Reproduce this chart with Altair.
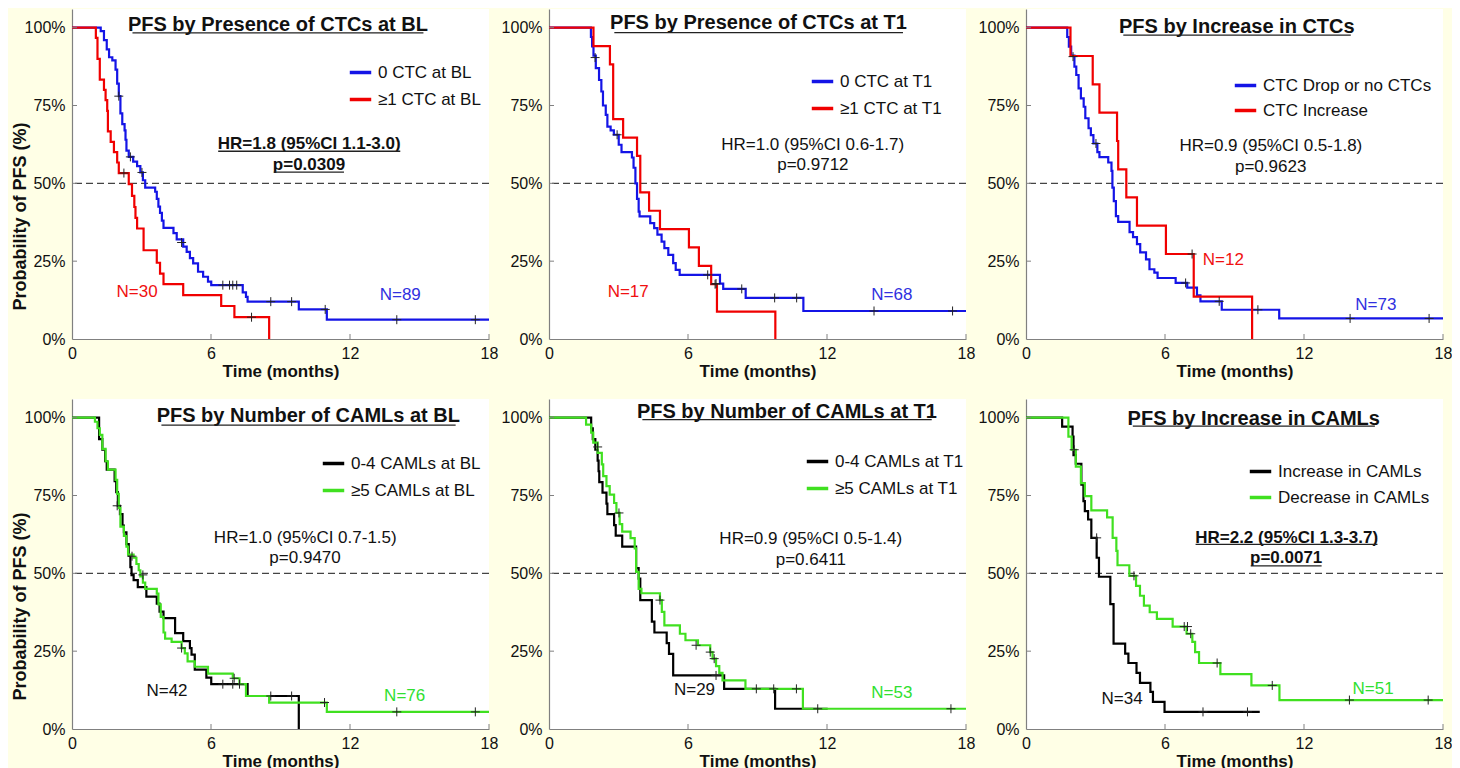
import altair as alt
import pandas as pd

FONT = "Liberation Sans"
BLUE = "#1414E6"
RED = "#F00000"
GREEN = "#40E020"
BLACK = "#000000"

# ---------------- Kaplan-Meier curves (time in months, survival in %) ----------------
# Panel 1: PFS by Presence of CTCs at BL
p1_a_t = [0, 1.24, 1.38, 1.50, 1.60, 1.74, 1.88, 1.95, 2.02, 2.09, 2.17, 2.27, 2.31, 2.35, 2.45, 2.64, 2.81, 2.95, 3.06, 3.16, 3.59, 3.66, 3.73, 3.80, 3.88, 3.95, 4.38, 4.52, 4.80, 4.95, 5.09, 5.23, 5.44, 5.66, 5.87, 6.01, 7.37, 7.51, 7.58, 9.79, 11.0, 18.0]
p1_a_s = [100, 98.9, 96.0, 93.0, 90.5, 89.5, 86.5, 82.0, 78.0, 72.5, 69.0, 67.0, 64.0, 60.5, 58.5, 57.0, 55.5, 53.5, 51.0, 48.6, 47.3, 45.0, 42.5, 40.5, 38.0, 35.7, 34.0, 32.0, 29.7, 28.0, 26.0, 24.3, 21.6, 20.0, 18.4, 17.3, 15.0, 13.5, 12.0, 9.5, 6.2, 6.2]
p1_b_t = [0, 1.03, 1.10, 1.20, 1.38, 1.45, 1.52, 1.55, 1.67, 1.81, 1.95, 2.02, 2.45, 2.59, 2.69, 2.74, 2.81, 3.09, 3.66, 3.80, 3.95, 4.80, 6.44, 7.01, 8.51]
p1_b_s = [100, 96.7, 90.0, 83.3, 80.0, 76.7, 73.3, 66.7, 63.3, 60.0, 56.7, 53.3, 49.7, 46.0, 42.4, 38.9, 35.5, 28.5, 24.5, 21.0, 17.6, 14.1, 10.6, 7.0, 0]
p1_a_cens_t = [2.02, 2.52, 3.02, 4.73, 6.51, 6.80, 6.94, 7.11, 8.58, 9.48, 10.93, 14.02, 17.41]
p1_a_cens_s = [78.0, 58.5, 53.5, 31.0, 17.3, 17.3, 17.3, 17.3, 12.0, 12.0, 9.5, 6.2, 6.2]
p1_b_cens_t = [2.24, 7.75]
p1_b_cens_s = [53.3, 7.0]

# Panel 2: PFS by Presence of CTCs at T1
p2_a_t = [0, 1.81, 1.86, 1.92, 2.02, 2.16, 2.26, 2.33, 2.45, 2.52, 2.66, 2.80, 3.01, 3.13, 3.58, 3.65, 3.73, 3.80, 3.87, 3.91, 4.37, 4.54, 4.68, 4.86, 4.98, 5.15, 5.36, 5.47, 5.64, 7.38, 7.52, 8.49, 10.98, 18.0]
p2_a_s = [100, 97.0, 94.0, 91.0, 87.0, 83.2, 79.5, 75.0, 72.0, 68.2, 67.0, 65.6, 62.4, 60.0, 58.3, 55.0, 50.0, 45.0, 40.9, 39.4, 37.2, 35.6, 33.5, 31.3, 29.2, 27.0, 24.4, 22.2, 20.6, 17.8, 16.1, 13.2, 9.0, 9.0]
p2_b_t = [0, 1.92, 2.63, 2.77, 3.20, 3.80, 3.94, 4.32, 4.79, 6.04, 6.47, 7.00, 7.25, 9.77]
p2_b_s = [100, 94.1, 88.2, 70.6, 64.7, 58.8, 47.1, 41.2, 35.3, 29.4, 23.5, 17.6, 8.8, 0]
p2_a_cens_t = [1.99, 2.94, 6.85, 7.21, 8.32, 9.74, 10.69, 14.03, 17.42]
p2_a_cens_s = [90.4, 65.6, 20.6, 17.8, 16.1, 13.2, 13.2, 9.0, 9.0]
p2_b_cens_t = [7.17]
p2_b_cens_s = [17.6]

# Panel 3: PFS by Increase in CTCs
p3_a_t = [0, 1.78, 1.85, 1.95, 2.09, 2.17, 2.27, 2.37, 2.49, 2.56, 2.70, 2.80, 2.91, 3.08, 3.17, 3.55, 3.69, 3.73, 3.79, 3.88, 3.98, 4.47, 4.62, 4.79, 4.93, 5.18, 5.33, 5.54, 5.68, 6.46, 6.96, 7.38, 7.53, 8.45, 10.93, 18.0]
p3_a_s = [100, 97.0, 93.9, 91.0, 87.5, 84.8, 80.5, 77.3, 74.6, 70.9, 67.7, 65.5, 62.8, 60.0, 58.4, 56.7, 54.0, 48.6, 44.3, 39.5, 37.6, 34.3, 32.7, 30.5, 27.8, 25.6, 22.4, 21.3, 19.6, 18.0, 16.5, 14.0, 12.1, 9.4, 6.6, 6.6]
p3_b_t = [0, 1.92, 2.88, 3.17, 3.93, 3.98, 4.33, 4.79, 6.04, 7.24, 9.76]
p3_b_s = [100, 90.9, 81.8, 72.7, 63.6, 54.5, 45.5, 36.4, 27.3, 13.6, 0]
p3_a_cens_t = [2.03, 3.02, 6.89, 8.34, 10.01, 13.99, 17.40]
p3_a_cens_s = [90.7, 62.8, 18.0, 12.1, 9.4, 6.6, 6.6]
p3_b_cens_t = [7.17]
p3_b_cens_s = [27.3]

# Panel 4: PFS by Number of CAMLs at BL
p4_a_t = [0, 1.17, 1.31, 1.43, 1.50, 1.84, 1.91, 1.98, 2.07, 2.18, 2.24, 2.35, 2.45, 2.52, 2.57, 2.66, 2.84, 3.21, 3.66, 3.78, 3.95, 4.45, 4.80, 5.09, 5.16, 5.30, 5.80, 6.01, 7.58, 9.79]
p4_a_s = [100, 93.1, 89.7, 86.0, 83.3, 79.6, 76.1, 71.7, 69.0, 65.3, 63.2, 59.4, 55.7, 52.0, 49.4, 47.8, 45.6, 42.5, 40.3, 37.7, 35.6, 30.8, 28.2, 26.0, 23.9, 19.1, 16.5, 14.4, 10.6, 0]
p4_b_t = [0, 0.99, 1.10, 1.20, 1.31, 1.45, 1.55, 1.88, 1.95, 2.02, 2.09, 2.24, 2.35, 2.42, 2.66, 2.78, 2.88, 2.95, 3.06, 3.16, 3.66, 3.73, 3.83, 3.95, 4.02, 4.30, 4.73, 4.87, 4.99, 5.30, 5.87, 6.94, 7.23, 7.51, 8.51, 11.0, 18.0]
p4_b_s = [100, 98.7, 96.6, 94.5, 90.0, 86.0, 83.3, 80.0, 75.5, 71.0, 65.0, 62.0, 58.6, 56.0, 55.0, 53.0, 51.0, 49.0, 47.0, 45.0, 43.5, 40.0, 36.0, 31.0, 29.0, 28.0, 26.0, 24.3, 21.7, 20.0, 17.8, 16.3, 14.4, 10.6, 8.5, 5.5, 5.5]
p4_a_cens_t = [1.95, 6.51, 6.94, 7.23, 8.58, 9.48]
p4_a_cens_s = [71.7, 14.4, 14.4, 14.4, 10.6, 10.6]
p4_b_cens_t = [2.59, 3.06, 4.73, 7.00, 10.90, 14.02, 17.41]
p4_b_cens_s = [55.5, 49.5, 26.0, 16.3, 8.5, 5.5, 5.5]

# Panel 5: PFS by Number of CAMLs at T1
p5_a_t = [0, 1.82, 1.89, 2.00, 2.10, 2.14, 2.17, 2.31, 2.48, 2.52, 2.81, 2.88, 3.16, 3.76, 3.87, 3.94, 4.44, 4.55, 5.08, 5.18, 5.36, 7.56, 9.76, 12.03]
p5_a_s = [100, 96.6, 93.1, 89.7, 86.2, 82.8, 79.3, 75.9, 72.4, 69.0, 65.5, 62.1, 58.6, 51.7, 48.3, 41.4, 34.5, 31.0, 27.6, 24.1, 17.2, 12.9, 6.5, 6.5]
p5_b_t = [0, 1.60, 1.82, 1.91, 2.10, 2.28, 2.34, 2.48, 2.62, 2.81, 2.91, 3.05, 3.16, 3.52, 3.70, 3.76, 3.87, 3.99, 4.79, 4.87, 4.98, 5.65, 5.89, 6.43, 6.96, 7.06, 7.21, 7.35, 7.49, 8.48, 10.96, 18.0]
p5_b_s = [100, 97.8, 95.2, 92.0, 88.7, 85.0, 81.2, 78.0, 75.3, 72.6, 69.4, 65.8, 63.4, 61.3, 58.0, 50.5, 45.0, 43.6, 41.4, 37.6, 33.3, 30.6, 28.5, 26.9, 24.7, 22.6, 20.2, 18.0, 15.6, 12.9, 6.5, 6.5]
p5_a_cens_t = [7.21, 8.95, 9.70, 11.60]
p5_a_cens_s = [17.2, 12.9, 12.9, 6.5]
p5_b_cens_t = [2.10, 3.02, 4.79, 6.35, 6.96, 7.13, 10.68, 17.35]
p5_b_cens_s = [90.6, 69.4, 41.4, 26.9, 24.7, 22.6, 12.9, 6.5]

# Panel 6: PFS by Increase in CAMLs
p6_a_t = [0, 1.56, 2.01, 2.05, 2.15, 2.39, 2.48, 2.54, 2.68, 2.82, 3.05, 3.15, 3.64, 3.78, 4.28, 4.42, 4.77, 4.92, 5.37, 5.48, 5.98, 10.09]
p6_a_s = [100, 97.1, 93.9, 88.0, 85.2, 78.5, 73.2, 70.0, 67.3, 61.4, 55.0, 48.9, 40.1, 27.4, 24.2, 21.2, 18.0, 14.8, 11.9, 8.7, 5.5, 5.5]
p6_b_t = [0, 1.83, 1.97, 2.15, 2.37, 2.54, 2.82, 3.50, 3.74, 3.90, 3.95, 4.46, 4.75, 4.92, 5.09, 5.34, 5.65, 6.33, 6.93, 7.18, 7.30, 7.47, 8.39, 9.73, 10.94, 18.0]
p6_b_s = [100, 93.9, 89.7, 84.3, 79.0, 74.8, 70.2, 68.0, 61.4, 57.2, 52.6, 49.2, 46.0, 42.8, 39.6, 37.5, 35.4, 32.9, 30.6, 28.0, 24.7, 21.2, 17.6, 14.0, 9.3, 9.3]
p6_a_cens_t = [3.05, 7.64, 9.56]
p6_a_cens_s = [61.4, 5.5, 5.5]
p6_b_cens_t = [2.08, 4.66, 6.83, 6.97, 7.11, 8.25, 10.63, 13.96, 17.36]
p6_b_cens_s = [89.7, 49.2, 32.9, 32.9, 30.6, 21.2, 14.0, 9.3, 9.3]

# ---------------- Labels ----------------
titles = ["PFS by Presence of CTCs at BL", "PFS by Presence of CTCs at T1", "PFS by Increase in CTCs",
          "PFS by Number of CAMLs at BL", "PFS by Number of CAMLs at T1", "PFS by Increase in CAMLs"]
series_names = [["0 CTC at BL", "\u22651 CTC at BL"], ["0 CTC at T1", "\u22651 CTC at T1"],
                ["CTC Drop or no CTCs", "CTC Increase"], ["0-4 CAMLs at BL", "\u22655 CAMLs at BL"],
                ["0-4 CAMLs at T1", "\u22655 CAMLs at T1"], ["Increase in CAMLs", "Decrease in CAMLs"]]
hr_texts = ["HR=1.8 (95%CI 1.1-3.0)", "HR=1.0 (95%CI 0.6-1.7)", "HR=0.9 (95%CI 0.5-1.8)",
            "HR=1.0 (95%CI 0.7-1.5)", "HR=0.9 (95%CI 0.5-1.4)", "HR=2.2 (95%CI 1.3-3.7)"]
p_texts = ["p=0.0309", "p=0.9712", "p=0.9623", "p=0.9470", "p=0.6411", "p=0.0071"]
significant = [True, False, False, False, False, True]
n_texts = [["N=89", "N=30"], ["N=68", "N=17"], ["N=73", "N=12"], ["N=42", "N=76"], ["N=29", "N=53"], ["N=34", "N=51"]]
x_ticks = [0, 6, 12, 18]
y_ticks = [0, 25, 50, 75, 100]

# ---------------- Layout / annotation placement (data units) ----------------
pal = [[BLUE, RED], [BLUE, RED], [BLUE, RED], [BLACK, GREEN], [BLACK, GREEN], [BLACK, GREEN]]
ntext_col = [["#3030E0", "#F01010"], ["#3030E0", "#F01010"], ["#3030E0", "#F01010"],
             ["#111111", "#30E030"], ["#111111", "#30E030"], ["#111111", "#30E030"]]
title_pos = [(8.89, 101.0, 2.61, 15.17, 98.3), (9.04, 101.4, 2.82, 15.28, 98.4), (9.10, 100.3, 4.20, 14.02, 97.6),
             (10.2, 100.4, 3.86, 16.56, 97.6), (10.27, 101.8, 4.03, 16.52, 99.4), (9.83, 99.5, 4.61, 15.06, 97.3)]
hr_pos = [(10.24, 62.5, 6.31, 14.17, 60.3), (11.38, 62.3, 0, 0, 0), (10.57, 62.1, 0, 0, 0),
          (10.07, 61.5, 0, 0, 0), (11.30, 60.9, 0, 0, 0), (11.25, 61.4, 7.32, 15.17, 59.3)]
p_pos = [(10.23, 56.0, 8.71, 11.74, 53.6), (11.39, 55.8, 0, 0, 0), (10.56, 55.4, 0, 0, 0),
         (10.06, 54.9, 0, 0, 0), (11.30, 54.2, 0, 0, 0), (11.23, 54.8, 9.70, 12.76, 52.4)]
n_pos = [[(14.17, 14.2), (2.81, 15.0)], [(14.8, 14.0), (3.42, 15.0)], [(15.1, 10.9), (8.52, 25.3)],
         [(4.10, 12.2), (14.36, 10.6)], [(6.28, 12.6), (14.8, 11.7)], [(4.15, 9.6), (14.98, 12.8)]]
legend_pos = [(276, 51), (261, 60), (207, 64), (249, 52), (256, 50), (222, 60)]
legend_rowpad = [6, 6, 4, 6, 6, 5]

curves = [
    ((p1_a_t, p1_a_s), (p1_b_t, p1_b_s), (p1_a_cens_t, p1_a_cens_s), (p1_b_cens_t, p1_b_cens_s)),
    ((p2_a_t, p2_a_s), (p2_b_t, p2_b_s), (p2_a_cens_t, p2_a_cens_s), (p2_b_cens_t, p2_b_cens_s)),
    ((p3_a_t, p3_a_s), (p3_b_t, p3_b_s), (p3_a_cens_t, p3_a_cens_s), (p3_b_cens_t, p3_b_cens_s)),
    ((p4_a_t, p4_a_s), (p4_b_t, p4_b_s), (p4_a_cens_t, p4_a_cens_s), (p4_b_cens_t, p4_b_cens_s)),
    ((p5_a_t, p5_a_s), (p5_b_t, p5_b_s), (p5_a_cens_t, p5_a_cens_s), (p5_b_cens_t, p5_b_cens_s)),
    ((p6_a_t, p6_a_s), (p6_b_t, p6_b_s), (p6_a_cens_t, p6_a_cens_s), (p6_b_cens_t, p6_b_cens_s)),
]

W, H = 417, 330
XS = alt.Scale(domain=[0, 18], nice=False, zero=False)
YS = alt.Scale(domain=[0, 106], nice=False, zero=False)


def panel(i, left):
    y_axis = alt.Axis(values=y_ticks, labelExpr="datum.value + '%'", grid=False, ticks=False,
                      domainColor="#808080", domainWidth=1.2, labelFont=FONT, labelFontSize=16,
                      labelColor="#111111", labelPadding=7,
                      title="Probability of PFS (%)" if left else "",
                      titleFont=FONT, titleFontSize=18, titleFontWeight="bold", titleColor="#111111",
                      titleX=-47, titleY=207, titleBaseline="alphabetic")
    x_axis = alt.Axis(values=x_ticks, grid=False, ticks=False, domainColor="#808080", domainWidth=1.2,
                      labelFont=FONT, labelFontSize=16, labelColor="#111111", labelPadding=6,
                      labelFlush=False, title="Time (months)", titleFont=FONT, titleFontSize=17,
                      titleFontWeight="bold", titleColor="#111111", titlePadding=2)

    def X(field="t"):
        return alt.X(f"{field}:Q", scale=XS, axis=x_axis)

    def Y(field="s"):
        return alt.Y(f"{field}:Q", scale=YS, axis=y_axis)

    def text_layer(txt, t, s, color, size, bold):
        df = pd.DataFrame({"t": [t], "s": [s], "label": [txt]})
        return alt.Chart(df).mark_text(font=FONT, fontSize=size, fontWeight="bold" if bold else "normal",
                                       color=color, align="center", baseline="middle").encode(
            x=X(), y=Y(), text="label:N")

    def underline_layer(t1, t2, s):
        df = pd.DataFrame({"t": [t1], "t2": [t2], "s": [s]})
        return alt.Chart(df).mark_rule(color="#222222", strokeWidth=1.3).encode(
            x=X(), x2="t2:Q", y=Y())

    (at, as_), (bt, bs), (act, acs), (bct, bcs) = curves[i]
    names = series_names[i]
    rows = []
    for k, (tt, ss) in enumerate([(at, as_), (bt, bs)]):
        for j, (t, s) in enumerate(zip(tt, ss)):
            rows.append({"t": t, "s": s, "g": names[k], "o": j})
    df = pd.DataFrame(rows)
    cens = pd.DataFrame({"t": list(act) + list(bct), "s": list(acs) + list(bcs)})

    dashed = alt.Chart(pd.DataFrame({"s": [50]})).mark_rule(
        color="#444444", strokeWidth=1.3, strokeDash=[7, 4]).encode(y=Y())

    lx, ly = legend_pos[i]
    lines = alt.Chart(df).mark_line(interpolate="step-after", strokeWidth=2.2, clip=True).encode(
        x=X(), y=Y(),
        color=alt.Color("g:N", scale=alt.Scale(domain=names, range=pal[i]),
                        legend=alt.Legend(orient="none", legendX=lx, legendY=ly, title=None,
                                          symbolType="stroke", symbolStrokeWidth=3.5, symbolSize=460,
                                          labelFont=FONT, labelFontSize=17, labelColor="#111111",
                                          labelLimit=400, padding=0, rowPadding=legend_rowpad[i],
                                          labelOffset=5)),
        order="o:Q")

    censor = alt.Chart(cens).mark_point(shape="M-1,0L1,0M0,-1L0,1", size=81, filled=False,
                                        color="#222222", strokeWidth=1, opacity=1).encode(x=X(), y=Y())

    xt = alt.Chart(pd.DataFrame({"t": x_ticks[1:], "s": [0] * 3})).mark_point(
        shape="M0,0L0,-1", size=100, filled=False, color="#808080", strokeWidth=1, opacity=1).encode(
        x=X(), y=Y())
    yt = alt.Chart(pd.DataFrame({"t": [0] * 4, "s": y_ticks[1:]})).mark_point(
        shape="M0,0L1,0", size=100, filled=False, color="#808080", strokeWidth=1, opacity=1).encode(
        x=X(), y=Y())

    layers = [dashed, lines, censor, xt, yt]
    tx, ty, u1, u2, uy = title_pos[i]
    layers.append(text_layer(titles[i], tx, ty, "#111111", 20, True))
    layers.append(underline_layer(u1, u2, uy))
    hx, hy, h1, h2, hu = hr_pos[i]
    px, py, q1, q2, qu = p_pos[i]
    layers.append(text_layer(hr_texts[i], hx, hy, "#111111", 17, significant[i]))
    layers.append(text_layer(p_texts[i], px, py, "#111111", 17, significant[i]))
    if significant[i]:
        layers.append(underline_layer(h1, h2, hu))
        layers.append(underline_layer(q1, q2, qu))
    for k in range(2):
        nx, ny = n_pos[i][k]
        layers.append(text_layer(n_texts[i][k], nx, ny, ntext_col[i][k], 17, False))

    return alt.layer(*layers).properties(width=W, height=H)


chart = alt.concat(*[panel(i, i % 3 == 0) for i in range(6)], columns=3, bounds="flush",
                   spacing={"row": 60, "column": 60}).resolve_scale(
    color="independent").resolve_legend(color="independent").configure(
    background="#FFFFE6", padding={"left": 3, "top": 1, "right": 0, "bottom": 0}).configure_view(
    fill="white", stroke=None)

chart.save("out.html", embed_options={"renderer": "svg", "actions": False})
